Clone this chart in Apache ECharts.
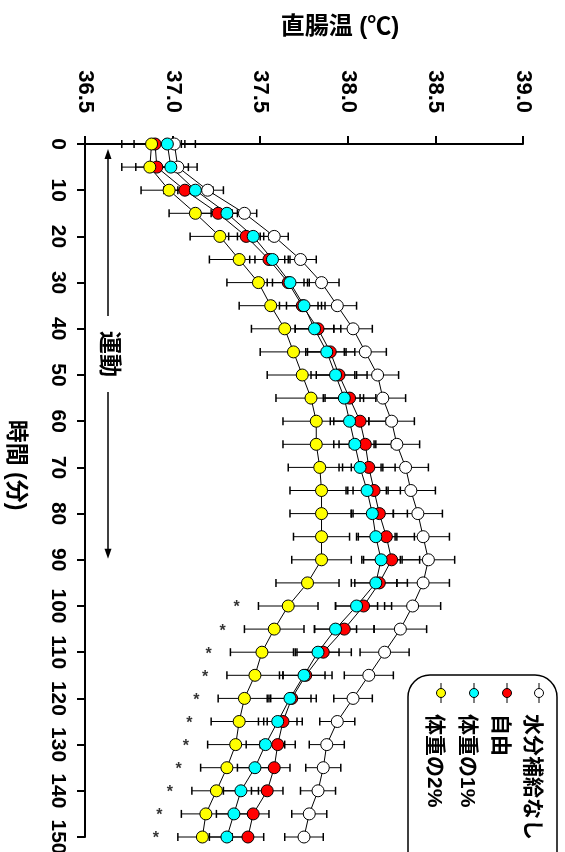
<!DOCTYPE html>
<html><head><meta charset="utf-8">
<script src="https://cdn.jsdelivr.net/npm/echarts@6/dist/echarts.min.js"></script>
<style>html,body{margin:0;padding:0;background:#fff;}#c{width:565px;height:852px;}</style>
</head><body><div id="c"></div>
<script>
// ---- data ----
const times = [0,5,10,15,20,25,30,35,40,45,50,55,60,65,70,75,80,85,90,95,100,105,110,115,120,125,130,135,140,145,150];
const tempTicks = [36.5, 37.0, 37.5, 38.0, 38.5, 39.0];
const timeTicks = [0,10,20,30,40,50,60,70,80,90,100,110,120,130,140,150];
const groupNames = ['水分補給なし', '自由', '体重の1%', '体重の2%'];
const groupColors = ['#ffffff', '#ff0000', '#00ffff', '#ffff00'];

const noWater   = [37.01,37.03,37.20,37.41,37.58,37.73,37.85,37.94,38.03,38.10,38.17,38.20,38.25,38.28,38.33,38.36,38.40,38.43,38.46,38.43,38.37,38.30,38.21,38.12,38.03,37.94,37.88,37.86,37.83,37.78,37.75];
const noWaterSD = [0.12,0.11,0.09,0.07,0.08,0.09,0.10,0.11,0.11,0.12,0.12,0.13,0.13,0.13,0.13,0.14,0.14,0.15,0.15,0.15,0.16,0.15,0.14,0.14,0.11,0.10,0.10,0.10,0.10,0.10,0.11];
const free      = [36.90,36.91,37.07,37.26,37.42,37.55,37.66,37.74,37.83,37.90,37.95,38.01,38.07,38.10,38.12,38.15,38.18,38.22,38.25,38.18,38.09,37.98,37.86,37.76,37.68,37.63,37.60,37.58,37.54,37.46,37.43];
const freeSD    = [0.12,0.12,0.12,0.11,0.10,0.11,0.12,0.13,0.13,0.14,0.16,0.15,0.15,0.15,0.15,0.15,0.16,0.16,0.16,0.16,0.16,0.17,0.16,0.15,0.14,0.11,0.10,0.09,0.09,0.09,0.09];
const bw1       = [36.97,36.99,37.13,37.31,37.46,37.57,37.67,37.75,37.81,37.88,37.93,37.98,38.01,38.04,38.07,38.11,38.14,38.16,38.19,38.16,38.05,37.93,37.83,37.75,37.67,37.60,37.53,37.47,37.39,37.35,37.31];
const bw1SD     = [0.10,0.10,0.10,0.09,0.09,0.10,0.10,0.10,0.11,0.11,0.11,0.11,0.11,0.12,0.12,0.12,0.12,0.11,0.11,0.12,0.12,0.12,0.12,0.12,0.12,0.11,0.11,0.10,0.10,0.10,0.10];
const bw2       = [36.88,36.87,36.98,37.13,37.27,37.38,37.49,37.56,37.64,37.69,37.74,37.79,37.82,37.82,37.84,37.85,37.85,37.85,37.85,37.77,37.66,37.58,37.51,37.47,37.41,37.38,37.36,37.31,37.25,37.19,37.17];
const bw2SD     = [0.17,0.16,0.16,0.15,0.17,0.17,0.18,0.18,0.19,0.19,0.20,0.20,0.19,0.19,0.18,0.18,0.18,0.16,0.17,0.18,0.17,0.17,0.18,0.16,0.15,0.16,0.16,0.15,0.14,0.14,0.14];
const starTimes = [100,105,110,115,120,125,130,135,140,145,150];
const exerciseEnd = 90;

const means = [noWater, free, bw1, bw2];
const sds = [noWaterSD, freeSD, bw1SD, bw2SD];

// ---- chart ----
const FONT = "'Liberation Sans', 'Noto Sans CJK JP', sans-serif";
const chart = echarts.init(document.getElementById('c'), null, {renderer: 'canvas'});

function errRender(params, api) {
  const t = api.value(0), m = api.value(1), s = api.value(2);
  const a = api.coord([m - s, t]), b = api.coord([m + s, t]);
  const h = 4;
  return {type: 'group', children: [
    {type: 'line', shape: {x1: a[0], y1: a[1], x2: b[0], y2: b[1]}, style: {stroke: '#000', lineWidth: 1}},
    {type: 'line', shape: {x1: a[0], y1: a[1] - h, x2: a[0], y2: a[1] + h}, style: {stroke: '#000', lineWidth: 1.5}},
    {type: 'line', shape: {x1: b[0], y1: b[1] - h, x2: b[0], y2: b[1] + h}, style: {stroke: '#000', lineWidth: 1.5}}
  ]};
}

const series = [];
means.forEach((m, g) => {
  series.push({
    type: 'custom', renderItem: errRender, z: 1, silent: true,
    encode: {x: 1, y: 0},
    data: times.map((t, i) => [t, m[i], sds[g][i]])
  });
});
means.forEach((m, g) => {
  series.push({
    type: 'line', z: 2, showSymbol: false, silent: true, animation: false,
    lineStyle: {color: '#000', width: 1},
    data: times.map((t, i) => [m[i], t])
  });
});
means.forEach((m, g) => {
  series.push({
    type: 'scatter', z: 3 + g, name: groupNames[g], symbol: 'circle', symbolSize: 12, silent: true,
    itemStyle: {color: groupColors[g], borderColor: '#000', borderWidth: 1, opacity: 1},
    data: times.map((t, i) => [m[i], t])
  });
});
// asterisks (significance marks) placed left of the 体重の2% error bars
series.push({
  type: 'scatter', z: 8, symbolSize: 1, silent: true,
  itemStyle: {color: 'rgba(0,0,0,0)'},
  label: {show: true, position: 'inside', formatter: '*', fontSize: 16, fontWeight: 'bold', color: '#000', fontFamily: FONT, offset: [0, 2]},
  data: starTimes.map(t => { const i = times.indexOf(t); return [bw2[i] - bw2SD[i] - 0.125, t]; })
});

const option = {
  animation: false,
  backgroundColor: '#fff',
  grid: {left: 85, right: 42, top: 144, bottom: 15, containLabel: false, outerBoundsMode: 'none'},
  xAxis: {
    type: 'value', position: 'top', min: tempTicks[0], max: tempTicks[tempTicks.length - 1], interval: 0.5,
    axisLine: {show: true, lineStyle: {color: '#000', width: 2}},
    axisTick: {show: true, inside: false, length: 8, lineStyle: {color: '#000', width: 2}},
    axisLabel: {rotate: -90, margin: 31, color: '#000', fontSize: 22, fontWeight: 'bold', fontFamily: FONT,
      formatter: v => v.toFixed(1)},
    splitLine: {show: false}
  },
  yAxis: {
    type: 'value', inverse: true, min: timeTicks[0], max: timeTicks[timeTicks.length - 1], interval: 10,
    axisLine: {show: true, lineStyle: {color: '#000', width: 2}},
    axisTick: {show: true, inside: false, length: 8, lineStyle: {color: '#000', width: 2}},
    axisLabel: {rotate: -90, margin: 17, color: '#000', fontSize: 21, fontWeight: 'bold', fontFamily: FONT},
    splitLine: {show: false}
  },
  series: series
};
chart.setOption(option);

// ---- annotations ----
const y0 = chart.convertToPixel({yAxisIndex: 0}, 0);
const y90 = chart.convertToPixel({yAxisIndex: 0}, exerciseEnd);
const ax = 108;
const mid = (y0 + y90) / 2 + 2;
const legX = [539, 507, 474, 441];
const graphics = [
  {type: 'text', x: 340, y: 27, style: {text: '直腸温 (℃)', fill: '#000', fontSize: 24, fontWeight: 'bold', fontFamily: FONT, align: 'center', verticalAlign: 'middle'}},
  {type: 'text', x: 15, y: 465, rotation: -Math.PI / 2, style: {text: '時間 (分)', fill: '#000', fontSize: 23, fontWeight: 'bold', fontFamily: FONT, align: 'center', verticalAlign: 'middle'}},
  {type: 'text', x: ax, y: mid, rotation: -Math.PI / 2, style: {text: '運動', fill: '#000', fontSize: 23, fontWeight: 'bold', fontFamily: FONT, align: 'center', verticalAlign: 'middle'}},
  {type: 'line', shape: {x1: ax, y1: y0 + 12, x2: ax, y2: mid - 38}, style: {stroke: '#000', lineWidth: 1.5}},
  {type: 'polygon', shape: {points: [[ax, y0 + 5], [ax - 3.5, y0 + 15], [ax + 3.5, y0 + 15]]}, style: {fill: '#000'}},
  {type: 'line', shape: {x1: ax, y1: mid + 38, x2: ax, y2: y90 - 9}, style: {stroke: '#000', lineWidth: 1.5}},
  {type: 'polygon', shape: {points: [[ax, y90 - 1], [ax - 3.5, y90 - 11], [ax + 3.5, y90 - 11]]}, style: {fill: '#000'}},
  {type: 'rect', shape: {x: 408, y: 675, width: 149, height: 230, r: 22}, style: {fill: '#fff', stroke: '#000', lineWidth: 1.5}, z: 10}
];
groupNames.forEach((n, g) => {
  const x = legX[g];
  graphics.push({type: 'line', z: 11, shape: {x1: x, y1: 683, x2: x, y2: 703}, style: {stroke: '#000', lineWidth: 1}});
  graphics.push({type: 'circle', z: 12, shape: {cx: x, cy: 693, r: 4.5}, style: {fill: groupColors[g], stroke: '#000', lineWidth: 1}});
  graphics.push({type: 'text', z: 12, x: x - 7, y: 714, rotation: -Math.PI / 2, style: {text: n, fill: '#000', fontSize: 21, fontWeight: 'bold', fontFamily: FONT, align: 'left', verticalAlign: 'middle'}});
});
chart.setOption({graphic: graphics});
</script>
</body></html>
